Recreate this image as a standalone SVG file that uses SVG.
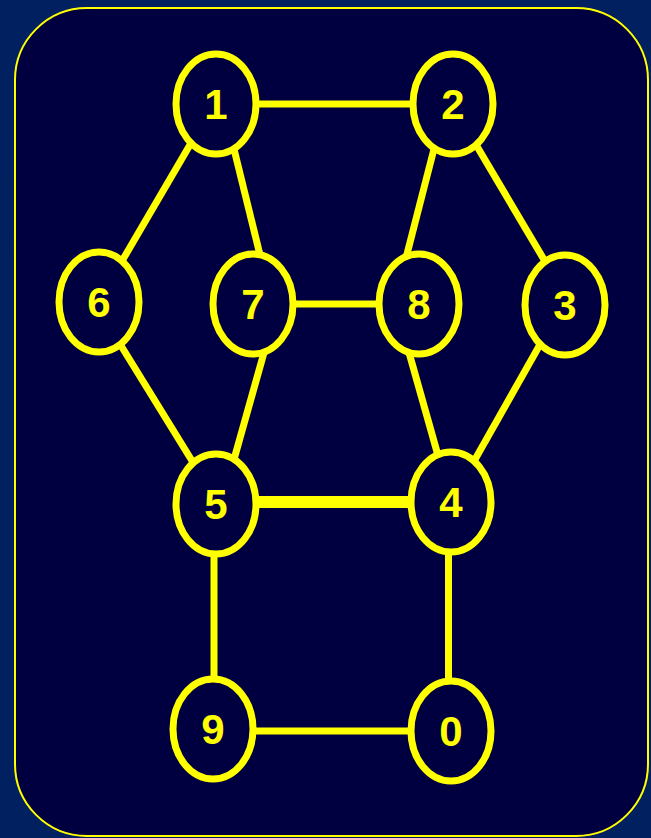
<svg xmlns="http://www.w3.org/2000/svg" width="651" height="838" viewBox="0 0 651 838">
<style>
.edge{stroke:#FFFF00;stroke-width:7;fill:none;stroke-linecap:butt}
.thick{stroke-width:12}
.node ellipse{fill:#000040;stroke:#FFFF00;stroke-width:7}
.node text{font-family:"Liberation Sans",Arial,sans-serif;font-weight:bold;font-size:42px;fill:#FFFF00;text-anchor:middle}
</style>
<rect x="0" y="0" width="651" height="838" fill="#002060"/>
<rect x="15" y="8" width="633" height="828" rx="72" ry="72" fill="#000040" stroke="#FFFF00" stroke-width="2"/>
<g id="connectors">
<line class="edge" x1="250" y1="104" x2="420" y2="104"/>
<line class="edge" x1="194" y1="138" x2="122" y2="261"/>
<line class="edge" x1="233" y1="145" x2="261" y2="259"/>
<line class="edge" x1="435" y1="145" x2="406" y2="258"/>
<line class="edge" x1="475" y1="143" x2="546" y2="263"/>
<line class="edge" x1="285" y1="304" x2="390" y2="304"/>
<line class="edge" x1="120" y1="344" x2="194" y2="464"/>
<line class="edge" x1="265" y1="349" x2="233" y2="463"/>
<line class="edge" x1="408" y1="349" x2="439" y2="459"/>
<line class="edge" x1="542" y1="341" x2="473" y2="463"/>
<line class="edge thick" x1="250" y1="502" x2="420" y2="502"/>
<line class="edge" x1="214" y1="545" x2="214" y2="690"/>
<line class="edge" x1="448.5" y1="545" x2="448.5" y2="690"/>
<line class="edge" x1="245" y1="731" x2="420" y2="731"/>
</g>
<g id="node1" class="node"><ellipse cx="216" cy="104" rx="40" ry="50"/><text x="216" y="119">1</text></g>
<g id="node2" class="node"><ellipse cx="453" cy="104" rx="40" ry="50"/><text x="453" y="119">2</text></g>
<g id="node6" class="node"><ellipse cx="99" cy="302" rx="40" ry="50"/><text x="99" y="317">6</text></g>
<g id="node7" class="node"><ellipse cx="253" cy="304" rx="40" ry="50"/><text x="253" y="319">7</text></g>
<g id="node8" class="node"><ellipse cx="419" cy="304" rx="40" ry="50"/><text x="419" y="319">8</text></g>
<g id="node3" class="node"><ellipse cx="565" cy="305" rx="40" ry="50"/><text x="565" y="320">3</text></g>
<g id="node5" class="node"><ellipse cx="216" cy="504" rx="40" ry="50"/><text x="216" y="519">5</text></g>
<g id="node4" class="node"><ellipse cx="451" cy="502" rx="40" ry="50"/><text x="451" y="517">4</text></g>
<g id="node9" class="node"><ellipse cx="213" cy="729" rx="40" ry="50"/><text x="213" y="744">9</text></g>
<g id="node0" class="node"><ellipse cx="451" cy="731" rx="40" ry="50"/><text x="451" y="746">0</text></g>
</svg>
